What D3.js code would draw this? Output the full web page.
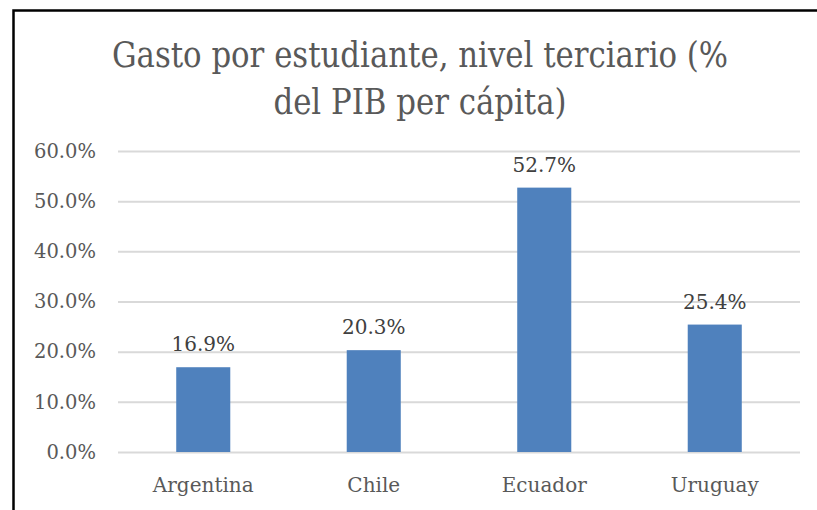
<!DOCTYPE html>
<html>
<head>
<meta charset="utf-8">
<script src="https://cdn.jsdelivr.net/npm/d3@7"></script>
<style>
  body { margin: 0; background: #fff; }
  svg text { font-family: "DejaVu Serif", serif; fill: #595959; }
</style>
</head>
<body>
<svg width="817" height="510"></svg>
<script>
var countries = ["Argentina", "Chile", "Ecuador", "Uruguay"];
var values = [16.9, 20.3, 52.7, 25.4];
var yTicks = [0, 10, 20, 30, 40, 50, 60];
var titleLines = ["Gasto por estudiante, nivel terciario (%", "del PIB per cápita)"];

var svg = d3.select("svg");

// chart frame (only left and top edges show in the picture)
svg.append("path")
    .attr("d", "M13.5,510 L13.5,10.5 L817,10.5")
    .attr("fill", "none")
    .attr("stroke", "#000")
    .attr("stroke-width", 2.5);

var scaleX = d3.scaleBand()
    .domain(countries)
    .range([118, 800])
    .paddingInner(0.683)
    .paddingOuter(0.3415);

var scaleY = d3.scaleLinear()
    .domain([0, 60])
    .range([452, 151]);

// gridlines + y labels
var yAxis = svg.append("g")
    .attr("transform", "translate(118,0)")
    .call(d3.axisLeft(scaleY)
        .tickValues(yTicks)
        .tickSize(-682)
        .tickPadding(22)
        .tickFormat(function(d) { return d.toFixed(1) + "%"; }));

yAxis.select(".domain").remove();
yAxis.selectAll("line").attr("stroke", "#d9d9d9").attr("stroke-width", 2);
yAxis.selectAll("text")
    .attr("fill", "#595959")
    .style("font-family", "DejaVu Serif")
    .style("font-size", "19.5px");

svg.selectAll(".bar")
    .data(values)
    .enter()
    .append("rect")
    .attr("class", "bar")
    .attr("x", function(d, i) { return scaleX(countries[i]); })
    .attr("y", function(d) { return scaleY(d); })
    .attr("width", scaleX.bandwidth())
    .attr("height", function(d) { return scaleY(0) - scaleY(d); })
    .attr("fill", "#4f81bd");

svg.selectAll(".val")
    .data(values)
    .enter()
    .append("text")
    .attr("class", "val")
    .attr("x", function(d, i) { return scaleX(countries[i]) + scaleX.bandwidth() / 2; })
    .attr("y", function(d) { return scaleY(d) - 16; })
    .attr("text-anchor", "middle")
    .style("font-size", "20px")
    .style("fill", "#404040")
    .text(function(d) { return d.toFixed(1) + "%"; });

svg.selectAll(".cat")
    .data(countries)
    .enter()
    .append("text")
    .attr("class", "cat")
    .attr("x", function(d) { return scaleX(d) + scaleX.bandwidth() / 2; })
    .attr("y", 492)
    .attr("text-anchor", "middle")
    .style("font-size", "20px")
    .text(function(d) { return d; });

// title, squeezed a bit to match the narrower face of the original
svg.selectAll(".title")
    .data(titleLines)
    .enter()
    .append("text")
    .attr("class", "title")
    .attr("transform", function(d, i) { return "translate(420," + (67 + i * 47) + ") scale(0.88,1)"; })
    .attr("text-anchor", "middle")
    .style("font-size", "35px")
    .text(function(d) { return d; });
</script>
</body>
</html>
